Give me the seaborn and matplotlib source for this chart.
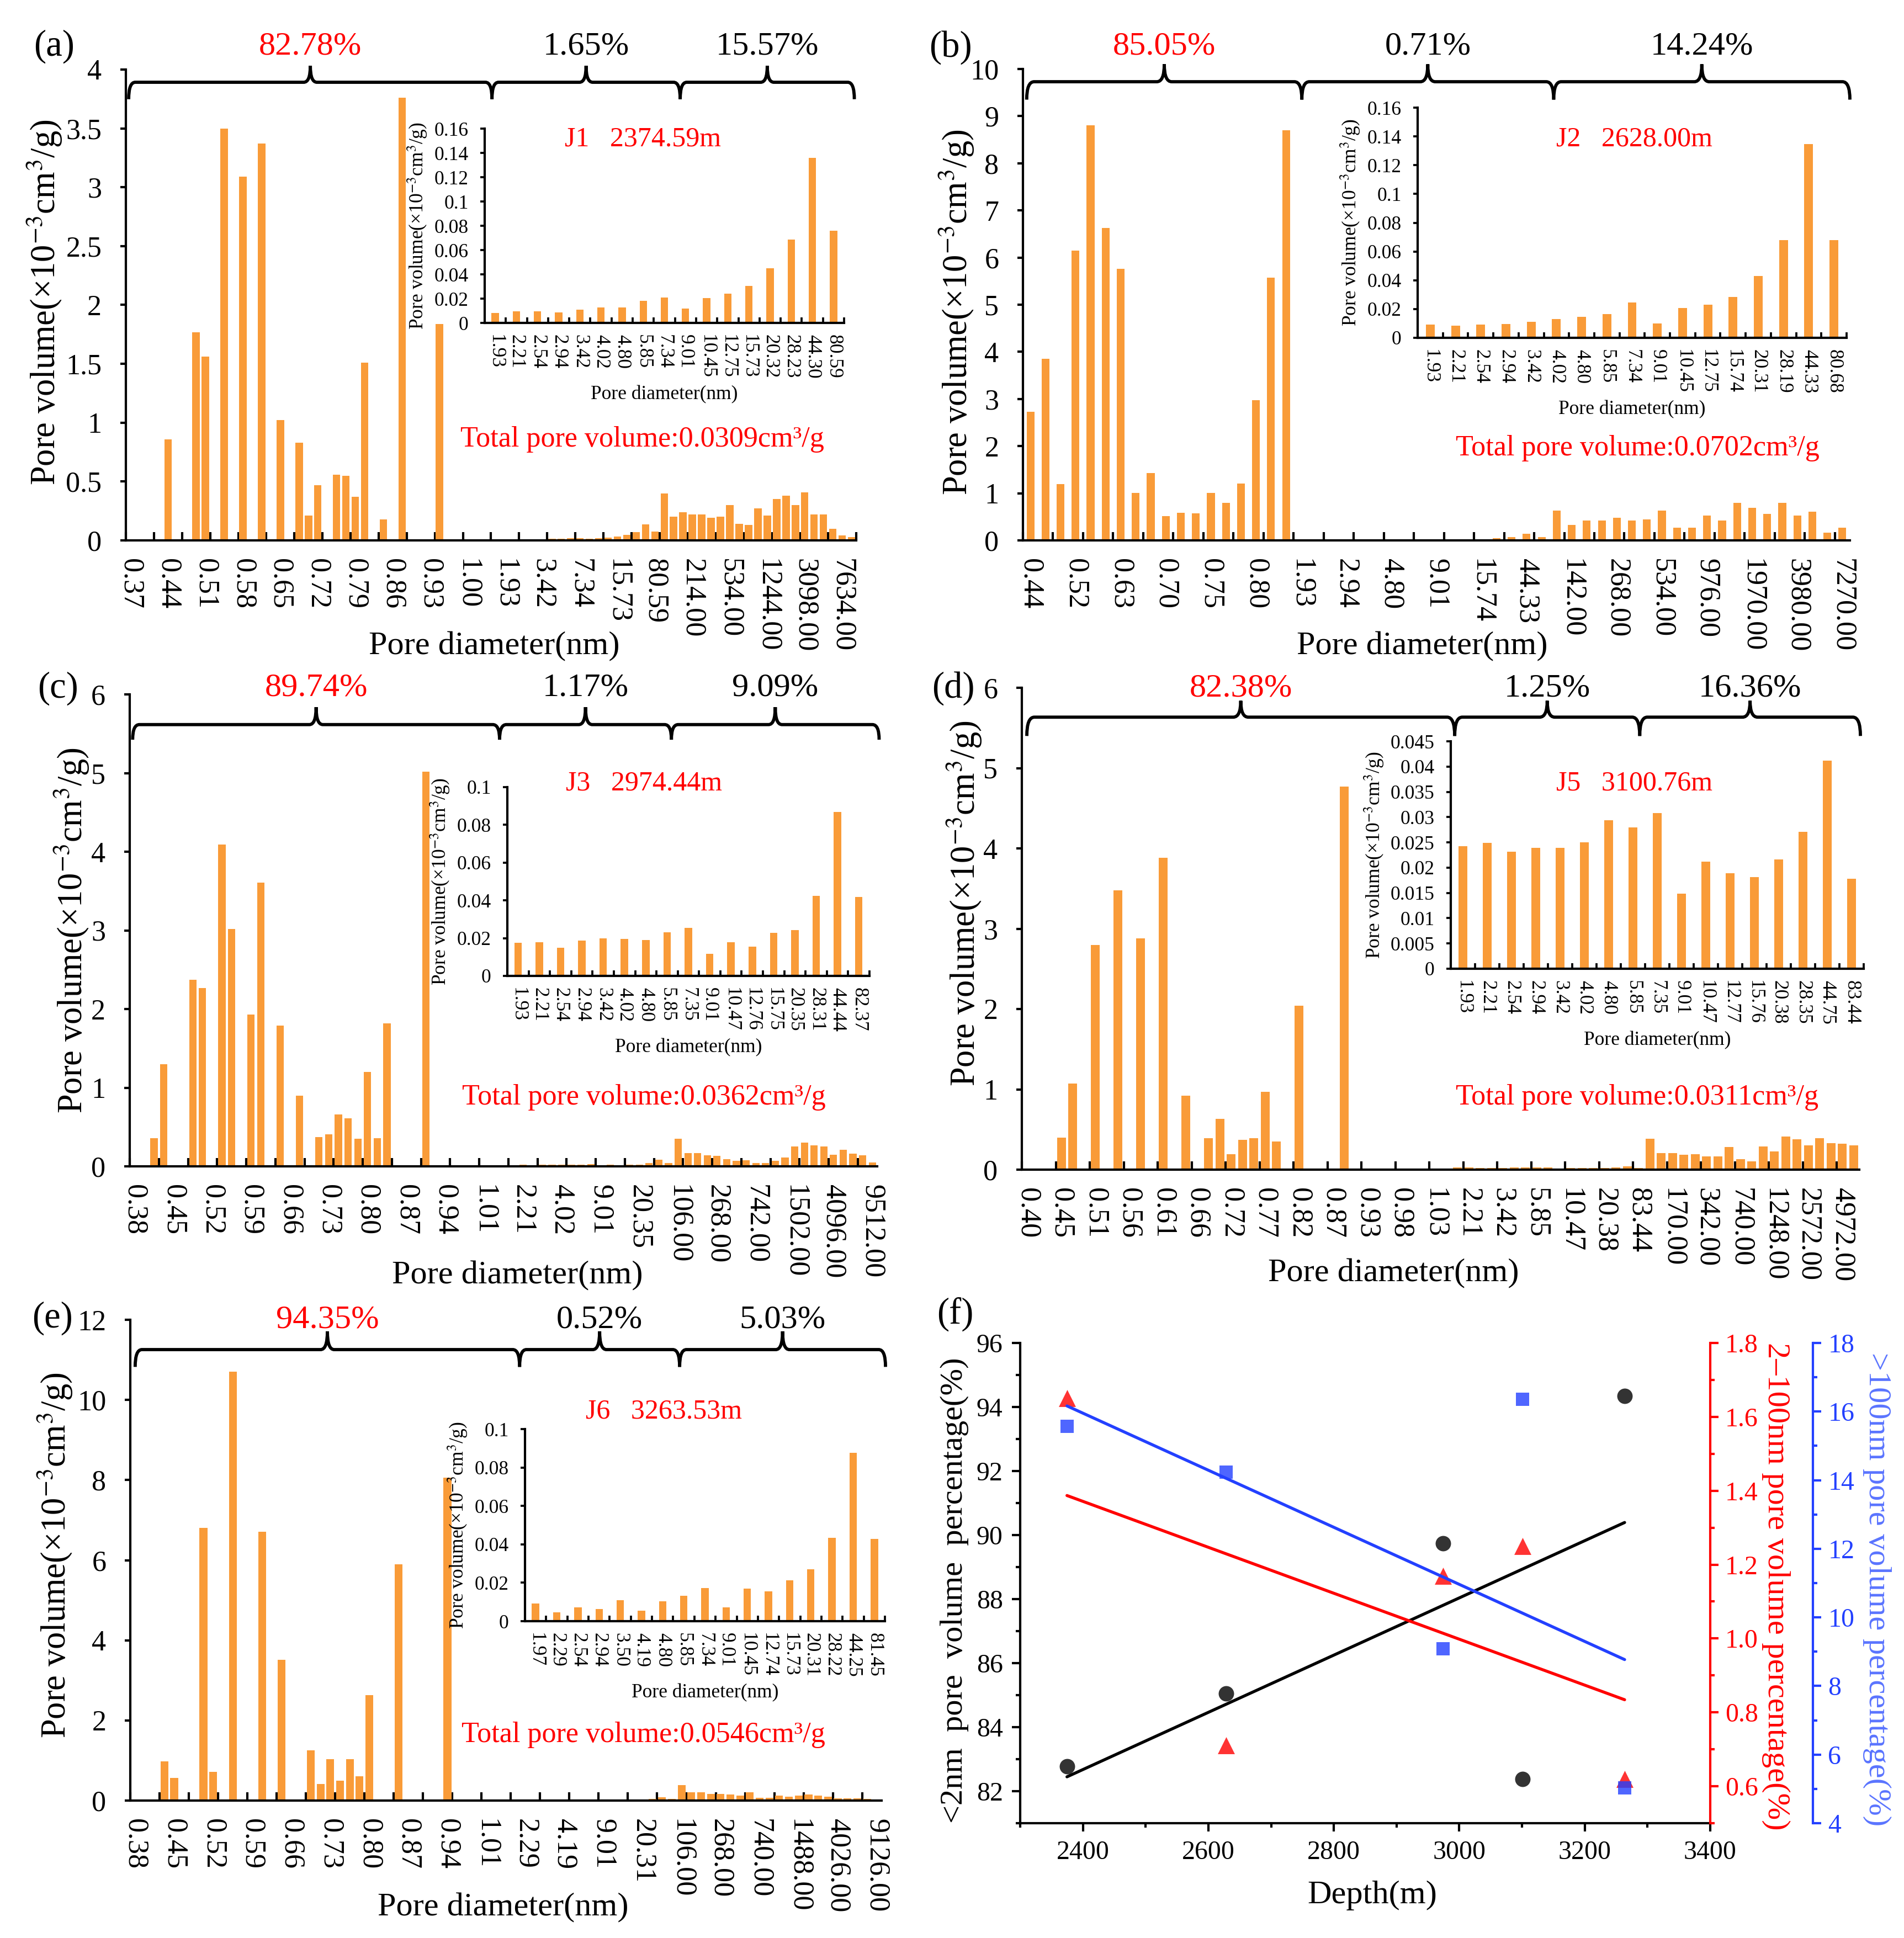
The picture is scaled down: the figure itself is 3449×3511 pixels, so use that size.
import numpy as np
import matplotlib
matplotlib.use("Agg")
import matplotlib.pyplot as plt
import seaborn as sns
from matplotlib.path import Path
from matplotlib.patches import PathPatch
from matplotlib.transforms import blended_transform_factory
from matplotlib.ticker import FuncFormatter, MultipleLocator

# ---------------- DATA ----------------
# Panel (a) J1
A_micro = [0, 0, 0, 0.01, 0.86, 0, 0, 1.77, 1.56, 0, 3.50, 0, 3.09, 0, 3.37, 0, 1.02, 0, 0.83, 0.21,
           0.47, 0, 0.56, 0.55, 0.37, 1.51, 0, 0.18, 0, 3.76, 0, 0, 0, 1.84, 0, 0, 0, 0, 0, 0]
A_meso = [0.008, 0.0094, 0.0094, 0.0087, 0.011, 0.0129, 0.0129, 0.018, 0.021, 0.0118, 0.0205,
          0.024, 0.0306, 0.0449, 0.0685, 0.136, 0.0758]
A_macro = [0.40, 0.20, 0.24, 0.22, 0.22, 0.19, 0.20, 0.30, 0.14, 0.13, 0.27, 0.21, 0.35, 0.38,
           0.30, 0.41, 0.22, 0.22, 0.10, 0.04, 0.03]
A_ticks = ['0.37', '0.44', '0.51', '0.58', '0.65', '0.72', '0.79', '0.86', '0.93', '1.00', '1.93',
           '3.42', '7.34', '15.73', '80.59', '214.00', '534.00', '1244.00', '3098.00', '7634.00']
A_inset_ticks = ['1.93', '2.21', '2.54', '2.94', '3.42', '4.02', '4.80', '5.85', '7.34', '9.01',
                 '10.45', '12.75', '15.73', '20.32', '28.23', '44.30', '80.59']
A_pct = ['82.78%', '1.65%', '15.57%']

# Panel (b) J2
B_micro = [2.73, 3.85, 1.19, 6.15, 8.80, 6.63, 5.76, 1.01, 1.43, 0.52, 0.58, 0.57, 1.01, 0.80,
           1.21, 2.98, 5.57, 8.70]
B_meso = [0.0094, 0.0085, 0.0094, 0.0097, 0.0112, 0.0132, 0.0144, 0.0164, 0.0244, 0.010, 0.0206,
          0.0232, 0.0285, 0.0429, 0.0681, 0.1348, 0.0681]
B_macro = [0.63, 0.33, 0.42, 0.42, 0.48, 0.42, 0.45, 0.63, 0.27, 0.27, 0.53, 0.42, 0.80, 0.69,
           0.56, 0.80, 0.53, 0.61, 0.16, 0.27]
B_ticks = ['0.44', '0.52', '0.63', '0.70', '0.75', '0.80', '1.93', '2.94', '4.80', '9.01', '15.74',
           '44.33', '142.00', '268.00', '534.00', '976.00', '1970.00', '3980.00', '7270.00']
B_inset_ticks = ['1.93', '2.21', '2.54', '2.94', '3.42', '4.02', '4.80', '5.85', '7.34', '9.01',
                 '10.45', '12.75', '15.74', '20.31', '28.19', '44.33', '80.68']
B_pct = ['85.05%', '0.71%', '14.24%']

# Panel (c) J3
C_micro = [0, 0, 0.36, 1.30, 0, 0, 2.37, 2.27, 0, 4.09, 3.02, 0, 1.93, 3.61, 0, 1.79, 0, 0.90, 0,
           0.37, 0.41, 0.66, 0.61, 0.35, 1.20, 0.36, 1.82, 0, 0, 0, 5.02, 0, 0, 0, 0, 0, 0, 0, 0]
C_meso = [0.0175, 0.0177, 0.0148, 0.0188, 0.0199, 0.0197, 0.019, 0.0231, 0.0253, 0.0116, 0.0179,
          0.0155, 0.0229, 0.0242, 0.0424, 0.0869, 0.0419]
C_macro = [0.35, 0.17, 0.17, 0.14, 0.13, 0.09, 0.07, 0.08, 0.04, 0.04, 0.07, 0.11, 0.25, 0.30,
           0.27, 0.25, 0.15, 0.21, 0.16, 0.14, 0.05]
C_ticks = ['0.38', '0.45', '0.52', '0.59', '0.66', '0.73', '0.80', '0.87', '0.94', '1.01', '2.21',
           '4.02', '9.01', '20.35', '106.00', '268.00', '742.00', '1502.00', '4096.00', '9512.00']
C_inset_ticks = ['1.93', '2.21', '2.54', '2.94', '3.42', '4.02', '4.80', '5.85', '7.35', '9.01',
                 '10.47', '12.76', '15.75', '20.35', '28.31', '44.44', '82.37']
C_pct = ['89.74%', '1.17%', '9.09%']

# Panel (d) J5
D_micro = [0, 0, 0, 0.40, 1.07, 0, 2.80, 0, 3.48, 0, 2.88, 0, 3.88, 0, 0.92, 0, 0.39, 0.63, 0.19,
           0.37, 0.39, 0.97, 0.35, 0, 2.04, 0, 0, 0, 4.77, 0, 0, 0, 0, 0, 0, 0, 0, 0]
D_meso = [0.0243, 0.0249, 0.0232, 0.0239, 0.0239, 0.025, 0.0294, 0.028, 0.0308, 0.0148, 0.0212,
          0.0189, 0.0181, 0.0216, 0.0271, 0.0412, 0.0178]
D_macro = [0.385, 0.205, 0.205, 0.185, 0.195, 0.165, 0.165, 0.28, 0.13, 0.10, 0.29, 0.23, 0.415,
           0.38, 0.30, 0.39, 0.33, 0.32, 0.30]
D_ticks = ['0.40', '0.45', '0.51', '0.56', '0.61', '0.66', '0.72', '0.77', '0.82', '0.87', '0.93',
           '0.98', '1.03', '2.21', '3.42', '5.85', '10.47', '20.38', '83.44', '170.00', '342.00',
           '740.00', '1248.00', '2572.00', '4972.00']
D_inset_ticks = ['1.93', '2.21', '2.54', '2.94', '3.42', '4.02', '4.80', '5.85', '7.35', '9.01',
                 '10.47', '12.77', '15.76', '20.38', '28.35', '44.75', '83.44']
D_pct = ['82.38%', '1.25%', '16.36%']

# Panel (e) J6
E_micro = [0, 0, 0, 0.98, 0.56, 0, 0, 6.81, 0.71, 0, 10.71, 0, 0, 6.71, 0, 3.52, 0, 0, 1.25, 0.42,
           1.03, 0.49, 1.03, 0.61, 2.63, 0, 0, 5.90, 0, 0, 0, 0, 8.06, 0, 0, 0, 0, 0, 0]
E_meso = [0.0092, 0.0047, 0.0071, 0.0062, 0.0109, 0.0054, 0.0103, 0.0131, 0.0173, 0.0071, 0.0169,
          0.0156, 0.0214, 0.027, 0.0433, 0.0876, 0.0428]
E_macro = [0.39, 0.20, 0.20, 0.17, 0.17, 0.15, 0.12, 0.20, 0.07, 0.07, 0.13, 0.09, 0.13, 0.15,
           0.13, 0.10, 0.06, 0.05, 0.05, 0.04, 0.02]
E_ticks = ['0.38', '0.45', '0.52', '0.59', '0.66', '0.73', '0.80', '0.87', '0.94', '1.01', '2.29',
           '4.19', '9.01', '20.31', '106.00', '268.00', '740.00', '1488.00', '4026.00', '9126.00']
E_inset_ticks = ['1.97', '2.29', '2.54', '2.94', '3.50', '4.19', '4.80', '5.85', '7.34', '9.01',
                 '10.45', '12.74', '15.73', '20.31', '28.22', '44.25', '81.45']
E_pct = ['94.35%', '0.52%', '5.03%']

samples = ['J1   2374.59m', 'J2   2628.00m', 'J3   2974.44m', 'J5   3100.76m', 'J6   3263.53m']
totals = ['0.0309', '0.0702', '0.0362', '0.0311', '0.0546']

# Panel (f)
depth = [2374.59, 2628.00, 2974.44, 3100.76, 3263.53]
micro_pct = [82.78, 85.05, 89.74, 82.38, 94.35]
meso_pct = [1.65, 0.71, 1.17, 1.25, 0.62]
macro_pct = [15.57, 14.24, 9.09, 16.36, 5.03]

# ---------------- STYLE ----------------
ORANGE = '#F99B38'
BLUE = '#2340FF'
sns.set_theme(style='ticks', rc={'axes.edgecolor': 'black', 'xtick.color': 'black',
                                 'ytick.color': 'black', 'text.color': 'black',
                                 'axes.labelcolor': 'black', 'axes.linewidth': 1.0})
plt.rcParams['font.family'] = ['Liberation Serif', 'DejaVu Serif']
plt.rcParams['mathtext.fontset'] = 'stix'

W, H = 3449, 3511
fig = plt.figure(figsize=(W / 300, H / 300), dpi=300, facecolor='white')

gfmt = FuncFormatter(lambda v, p: f'{v:g}')
YLAB = 'Pore volume(×10$^{-3}$cm$^{3}$/g)'


def px_rect(x0, y0, x1, y1):
    return [x0 / W, 1 - y1 / H, (x1 - x0) / W, (y1 - y0) / H]


def brace(ax, x0, x1, yl, ye, yp, r):
    tr = blended_transform_factory(ax.transData, ax.transAxes)
    xm = (x0 + x1) / 2
    verts = [(x0, ye), (x0, yl), (x0 + r, yl), (xm - r, yl), (xm, yl), (xm, yp),
             (xm, yl), (xm + r, yl), (x1 - r, yl), (x1, yl), (x1, ye)]
    codes = [Path.MOVETO, Path.CURVE3, Path.CURVE3, Path.LINETO, Path.CURVE3, Path.CURVE3,
             Path.CURVE3, Path.CURVE3, Path.LINETO, Path.CURVE3, Path.CURVE3]
    ax.add_patch(PathPatch(Path(verts, codes), transform=tr, fill=False, lw=1.4,
                           color='black', clip_on=False))
    return xm


def main_panel(rect, vals, labels, lab_step, tick_step, ymax, ystep, bar_w):
    ax = fig.add_axes(rect)
    n = len(vals)
    sns.barplot(x=np.arange(n), y=vals, color=ORANGE, saturation=1, width=bar_w,
                errorbar=None, linewidth=0, ax=ax)
    ax.set_xlim(-0.5, n - 0.5)
    ax.set_ylim(0, ymax)
    ax.set_yticks(np.arange(0, ymax + ystep / 2, ystep))
    ax.yaxis.set_major_formatter(gfmt)
    pos = np.arange(0, n, lab_step)[:len(labels)]
    ax.set_xticks(pos)
    ax.set_xticklabels(labels, rotation=-90)
    ax.set_xticks(np.arange(-0.5, n, tick_step), minor=True)
    ax.tick_params(axis='x', which='major', length=0, pad=8, labelsize=12.5)
    ax.tick_params(axis='x', which='minor', direction='in', length=3.5, width=1)
    ax.tick_params(axis='y', direction='out', length=2.5, width=1, pad=8, labelsize=12.5)
    for s in ['top', 'right']:
        ax.spines[s].set_visible(False)
    ax.set_xlabel('')
    ax.set_ylabel('')
    return ax


def inset_panel(rect, vals, labels, ymax, ystep):
    ax = fig.add_axes(rect)
    ax.patch.set_alpha(0)
    n = len(vals)
    sns.barplot(x=np.arange(n), y=vals, color=ORANGE, saturation=1, width=0.35,
                errorbar=None, linewidth=0, ax=ax)
    ax.set_xlim(-0.5, n - 0.5)
    ax.set_ylim(0, ymax)
    ax.set_yticks(np.arange(0, ymax + ystep / 2, ystep))
    ax.yaxis.set_major_formatter(gfmt)
    ax.set_xticks(np.arange(n))
    ax.set_xticklabels(labels, rotation=-90)
    ax.set_xticks(np.arange(-0.5, n, 1), minor=True)
    ax.tick_params(axis='x', which='major', length=0, pad=5, labelsize=8.5)
    ax.tick_params(axis='x', which='minor', direction='in', length=2.5, width=0.9)
    ax.tick_params(axis='y', direction='out', length=2, width=0.9, pad=5, labelsize=8.5)
    for s in ['top', 'right']:
        ax.spines[s].set_visible(False)
    ax.set_ylabel(YLAB, fontsize=8.5, labelpad=2)
    ax.set_xlabel('Pore diameter(nm)', fontsize=8.5, labelpad=3)
    return ax


panels = [
    dict(vals=A_micro + A_meso + A_macro, ticks=A_ticks, inset=A_meso, itk=A_inset_ticks,
         pct=A_pct, lab=4, tk=3, ymax=4, ystep=0.5, bw=0.8, imax=0.16, istep=0.02,
         rect=px_rect(228, 126, 1551, 979), irect=px_rect(878, 233, 1529, 585),
         br=[-0.2, 38.6, 58.7, 77.3], bv=(0.973, 0.937, 1.008, 1.049),
         xl=(0.504, -0.225), yl=(-0.111, 0.506), jt=(0.44, 0.946), tt=(0.707, 0.215),
         tag='(a)', tagpos=(98, 84)),
    dict(vals=B_micro + B_meso + B_macro, ticks=B_ticks, inset=B_meso, itk=B_inset_ticks,
         pct=B_pct, lab=3, tk=2, ymax=10, ystep=1, bw=0.52, imax=0.16, istep=0.02,
         rect=px_rect(1853, 125, 3351, 979), irect=px_rect(2568, 195, 3345, 612),
         br=[-0.25, 18.05, 34.8, 54.5], bv=(0.973, 0.935, 1.010, 1.048),
         xl=(0.483, -0.225), yl=(-0.080, 0.484), jt=(0.505, 0.863), tt=(0.743, 0.195),
         tag='(b)', tagpos=(1722, 86)),
    dict(vals=C_micro + C_meso + C_macro, ticks=C_ticks, inset=C_meso, itk=C_inset_ticks,
         pct=C_pct, lab=4, tk=3, ymax=6, ystep=1, bw=0.75, imax=0.1, istep=0.02,
         rect=px_rect(235, 1258, 1589, 2113), irect=px_rect(919, 1426, 1575, 1768),
         br=[-0.2, 37.6, 55.3, 76.7], bv=(0.936, 0.904, 0.973, 1.013),
         xl=(0.519, -0.232), yl=(-0.078, 0.50), jt=(0.377, 1.02), tt=(0.688, 0.146),
         tag='(c)', tagpos=(105, 1247)),
    dict(vals=D_micro + D_meso + D_macro, ticks=D_ticks, inset=D_meso, itk=D_inset_ticks,
         pct=D_pct, lab=3, tk=3, ymax=6, ystep=1, bw=0.8, imax=0.045, istep=0.005,
         rect=px_rect(1851, 1246, 3368, 2119), irect=px_rect(2628, 1343, 3376, 1755),
         br=[-0.06, 37.75, 54.1, 73.6], bv=(0.939, 0.900, 0.973, 0.998),
         xl=(0.444, -0.216), yl=(-0.069, 0.552), jt=(0.444, 0.816), tt=(0.735, 0.150),
         tag='(d)', tagpos=(1727, 1247)),
    dict(vals=E_micro + E_meso + E_macro, ticks=E_ticks, inset=E_meso, itk=E_inset_ticks,
         pct=E_pct, lab=4, tk=3, ymax=12, ystep=2, bw=0.8, imax=0.1, istep=0.02,
         rect=px_rect(236, 2391, 1597, 3262), irect=px_rect(951, 2589, 1603, 2937),
         br=[0.0, 39.4, 55.8, 76.9], bv=(0.938, 0.902, 0.976, 0.999),
         xl=(0.496, -0.223), yl=(-0.10, 0.51), jt=(0.385, 1.092), tt=(0.683, 0.137),
         tag='(e)', tagpos=(95, 2388)),
]

for i, p in enumerate(panels):
    ax = main_panel(p['rect'], p['vals'], p['ticks'], p['lab'], p['tk'], p['ymax'],
                    p['ystep'], p['bw'])
    n = len(p['vals'])
    tr = blended_transform_factory(ax.transData, ax.transAxes)
    yl_, ye_, yp_, yt_ = p['bv']
    b = p['br']
    for k in range(3):
        xm = brace(ax, b[k], b[k + 1], yl_, ye_, yp_, 0.009 * n)
        ax.text(xm, yt_, p['pct'][k], transform=tr, ha='center', va='center',
                fontsize=14.5, color='#FF0000' if k == 0 else 'black')
    ax.text(p['xl'][0], p['xl'][1], 'Pore diameter(nm)', transform=ax.transAxes,
            ha='center', va='center', fontsize=14.5)
    ax.text(p['yl'][0], p['yl'][1], YLAB, transform=ax.transAxes, rotation=90,
            ha='center', va='center', fontsize=15)
    ax.text(p['tt'][0], p['tt'][1], 'Total pore volume:' + totals[i] + 'cm³/g',
            transform=ax.transAxes, ha='center', va='center', fontsize=12.5, color='#FF0000')
    iax = inset_panel(p['irect'], p['inset'], p['itk'], p['imax'], p['istep'])
    iax.text(p['jt'][0], p['jt'][1], samples[i], transform=iax.transAxes, ha='center',
             va='center', fontsize=12, color='#FF0000')
    fig.text(p['tagpos'][0] / W, 1 - p['tagpos'][1] / H, p['tag'], ha='center',
             va='center', fontsize=16)

# ---------------- Panel (f) ----------------
axf = fig.add_axes(px_rect(1848, 2433, 3098, 3303))
sns.regplot(x=depth, y=micro_pct, ci=None, ax=axf, color='black', marker='o', truncate=True,
            scatter_kws={'s': 45, 'zorder': 4, 'linewidths': 0}, line_kws={'lw': 1.3})
ax2 = axf.twinx()
sns.regplot(x=depth, y=meso_pct, ci=None, ax=ax2, color='#FF0000', marker='^', truncate=True,
            scatter_kws={'s': 55, 'zorder': 4, 'linewidths': 0}, line_kws={'lw': 1.3})
ax3 = axf.twinx()
ax3.spines['right'].set_position(('axes', 1.149))
sns.regplot(x=depth, y=macro_pct, ci=None, ax=ax3, color=BLUE, marker='s', truncate=True,
            scatter_kws={'s': 32, 'zorder': 4, 'linewidths': 0}, line_kws={'lw': 1.3})

axf.set_xlim(2300, 3400)
axf.set_ylim(81, 96)
ax2.set_ylim(0.5, 1.8)
ax3.set_ylim(4, 18)
axf.xaxis.set_major_locator(MultipleLocator(200))
axf.xaxis.set_minor_locator(MultipleLocator(100))
axf.set_yticks(np.arange(82, 96.1, 2))
axf.yaxis.set_minor_locator(MultipleLocator(1))
ax2.set_yticks(np.arange(0.6, 1.81, 0.2))
ax2.yaxis.set_minor_locator(MultipleLocator(0.1))
ax2.yaxis.set_major_formatter(FuncFormatter(lambda v, p: f'{v:.1f}'))
ax3.set_yticks(np.arange(4, 18.1, 2))
ax3.yaxis.set_minor_locator(MultipleLocator(1))
for a in (axf, ax2, ax3):
    a.set_xlabel('')
    a.set_ylabel('')
axf.tick_params(axis='both', which='major', direction='out', length=3.5, width=1,
                labelsize=11.5, pad=4)
axf.tick_params(axis='both', which='minor', direction='out', length=2, width=1)
ax2.tick_params(axis='y', which='major', direction='out', length=3.5, width=1, labelsize=11.5,
                colors='#FF0000', pad=3)
ax2.tick_params(axis='y', which='minor', direction='out', length=2, width=1, colors='#FF0000')
ax3.tick_params(axis='y', which='major', direction='out', length=3.5, width=1, labelsize=11.5,
                colors=BLUE, pad=3)
ax3.tick_params(axis='y', which='minor', direction='out', length=2, width=1, colors=BLUE)
axf.spines['top'].set_visible(False)
axf.spines['right'].set_visible(False)
for a, c in ((ax2, '#FF0000'), (ax3, BLUE)):
    for s in ['top', 'left', 'bottom']:
        a.spines[s].set_visible(False)
    a.spines['right'].set_color(c)
    a.spines['right'].set_linewidth(1.0)

axf.text(0.51, -0.151, 'Depth(m)', transform=axf.transAxes, ha='center', va='center',
         fontsize=14.5)
axf.text(-0.095, 0.485, '<2nm  pore  volume  percentage(%)', transform=axf.transAxes,
         rotation=90, ha='center', va='center', fontsize=14)
axf.text(1.095, 0.493, '2–100nm pore volume percentage(%)', transform=axf.transAxes,
         rotation=-90, ha='center', va='center', fontsize=14, color='#FF0000')
axf.text(1.242, 0.487, '>100nm pore volume percentage(%)', transform=axf.transAxes,
         rotation=-90, ha='center', va='center', fontsize=14, color='#5A74FF')
fig.text(1730 / W, 1 - 2381 / H, '(f)', ha='center', va='center', fontsize=16)

fig.savefig('out.png', dpi=300, facecolor='white')
